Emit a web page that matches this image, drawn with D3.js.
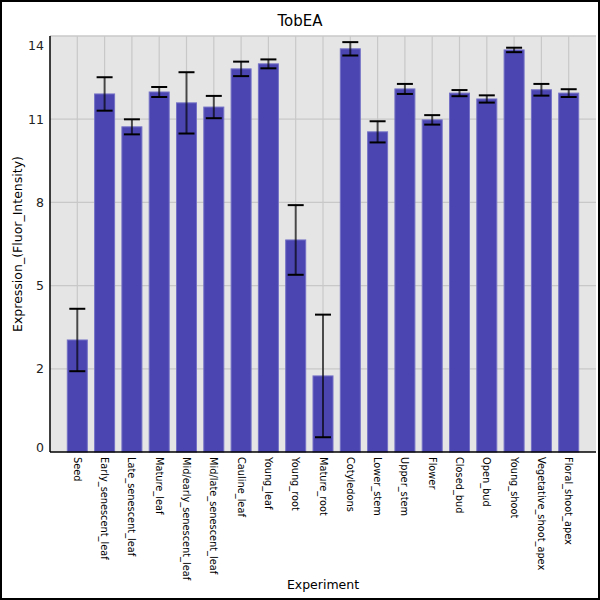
<!DOCTYPE html>
<html>
<head>
<meta charset="utf-8">
<script src="https://cdn.jsdelivr.net/npm/d3@7"></script>
<style>
  body { margin: 0; background: #fff; }
  svg { display: block; font-family: "DejaVu Sans", sans-serif; }
</style>
</head>
<body>
<svg id="chart" width="600" height="600"></svg>
<script>
// data
const categories = [
  "Seed", "Early_senescent_leaf", "Late_senescent_leaf", "Mature_leaf",
  "Mid/early_senescent_leaf", "Mid/late_senescent_leaf", "Cauline_leaf",
  "Young_leaf", "Young_root", "Mature_root", "Cotyledons", "Lower_stem",
  "Upper_stem", "Flower", "Closed_bud", "Open_bud", "Young_shoot",
  "Vegetative_shoot_apex", "Floral_shoot_apex"
];
const means = [
  4.02, 12.85, 11.67, 12.92, 12.53, 12.38, 13.75, 13.93, 7.61, 2.73,
  14.47, 11.49, 13.03, 11.92, 12.88, 12.67, 14.43, 13.0, 12.88
];
const errs = [
  1.12, 0.60, 0.27, 0.18, 1.10, 0.40, 0.26, 0.16, 1.25, 2.20,
  0.24, 0.38, 0.18, 0.17, 0.11, 0.13, 0.08, 0.21, 0.14
];
const yMax = 14.93;
const yTicks = [0, 1, 2, 3, 4, 5].map((i) => (yMax * i) / 5);

const svg = d3.select("#chart");
const margin = { top: 36, right: 4, bottom: 148, left: 50 };
const W = 600, H = 600;
const plotW = W - margin.left - margin.right;
const plotH = H - margin.top - margin.bottom;

// outer frame
svg.append("rect")
  .attr("x", 1).attr("y", 1)
  .attr("width", W - 2).attr("height", H - 2)
  .attr("fill", "#fff")
  .attr("stroke", "#000")
  .attr("stroke-width", 2);

const x = d3.scaleLinear().domain([0, categories.length + 1]).range([0, plotW]);
const y = d3.scaleLinear().domain([0, yMax]).range([plotH, 0]);

const g = svg.append("g")
  .attr("transform", `translate(${margin.left},${margin.top})`);

g.append("rect")
  .attr("width", plotW).attr("height", plotH)
  .attr("fill", "#e5e5e5");

// grid
g.append("g")
  .selectAll("line")
  .data(yTicks.slice(1, -1))
  .enter()
  .append("line")
  .attr("x1", 0).attr("x2", plotW)
  .attr("y1", (d) => y(d)).attr("y2", (d) => y(d))
  .style("stroke", "#c8c8c8")
  .style("stroke-width", 1.2);

g.append("g")
  .selectAll("line")
  .data(categories)
  .enter()
  .append("line")
  .attr("x1", (_, i) => x(i + 1)).attr("x2", (_, i) => x(i + 1))
  .attr("y1", 0).attr("y2", plotH)
  .style("stroke", "#c8c8c8")
  .style("stroke-width", 1.2);

g.append("line")
  .attr("x1", 0).attr("x2", plotW)
  .attr("y1", 0).attr("y2", 0)
  .style("stroke", "#c8c8c8")
  .style("stroke-width", 1.5);

// bars
const barW = 20;
g.append("g")
  .selectAll("rect")
  .data(means)
  .enter()
  .append("rect")
  .attr("x", (_, i) => x(i + 1) - barW / 2)
  .attr("y", (d) => y(d))
  .attr("width", barW)
  .attr("height", (d) => plotH - y(d))
  .style("fill", "#4a45b0")
  .style("stroke", "#7471c6")
  .style("stroke-width", 1);

// error bars
const capW = 16;
const eb = g.append("g")
  .selectAll("g")
  .data(means)
  .enter()
  .append("g");

eb.append("line")
  .attr("x1", (_, i) => x(i + 1)).attr("x2", (_, i) => x(i + 1))
  .attr("y1", (d, i) => y(d + errs[i]))
  .attr("y2", (d, i) => y(d - errs[i]))
  .style("stroke", "#000")
  .style("stroke-opacity", 0.65)
  .style("stroke-width", 2);

["hi", "lo"].forEach((side) => {
  eb.append("line")
    .attr("x1", (_, i) => x(i + 1) - capW / 2)
    .attr("x2", (_, i) => x(i + 1) + capW / 2)
    .attr("y1", (d, i) => y(side === "hi" ? d + errs[i] : d - errs[i]))
    .attr("y2", (d, i) => y(side === "hi" ? d + errs[i] : d - errs[i]))
    .style("stroke", "#000")
    .style("stroke-width", 2);
});

// axes lines
g.append("line")
  .attr("x1", 0).attr("x2", 0).attr("y1", 0).attr("y2", plotH)
  .style("stroke", "#000").style("stroke-width", 1.5);
g.append("line")
  .attr("x1", 0).attr("x2", plotW).attr("y1", plotH).attr("y2", plotH)
  .style("stroke", "#000").style("stroke-width", 1.5);

// y tick labels (values truncated, end labels pulled inside)
g.append("g")
  .selectAll("text")
  .data(yTicks)
  .enter()
  .append("text")
  .attr("x", -6)
  .attr("y", (d, i) => {
    let p = y(d);
    if (i === 0) p -= 4;
    if (i === yTicks.length - 1) p += 10;
    return p;
  })
  .attr("dy", "0.35em")
  .attr("text-anchor", "end")
  .style("font-size", "12.5px")
  .style("fill", "#222")
  .text((d) => Math.floor(d));

// x tick labels
g.append("g")
  .selectAll("text")
  .data(categories)
  .enter()
  .append("text")
  .attr("transform", (_, i) => `translate(${x(i + 1)},${plotH + 5}) rotate(90)`)
  .attr("dy", "0.35em")
  .attr("text-anchor", "start")
  .style("font-size", "9.8px")
  .style("fill", "#000")
  .text((d) => d);

// titles
svg.append("text")
  .attr("x", W / 2).attr("y", 26)
  .attr("text-anchor", "middle")
  .style("font-size", "15px")
  .text("TobEA");

svg.append("text")
  .attr("x", margin.left + plotW / 2).attr("y", 589)
  .attr("text-anchor", "middle")
  .style("font-size", "12.5px")
  .text("Experiment");

svg.append("text")
  .attr("transform", `translate(22,${margin.top + plotH / 2}) rotate(-90)`)
  .attr("text-anchor", "middle")
  .style("font-size", "12.5px")
  .text("Expression_(Fluor_Intensity)");
</script>
</body>
</html>
